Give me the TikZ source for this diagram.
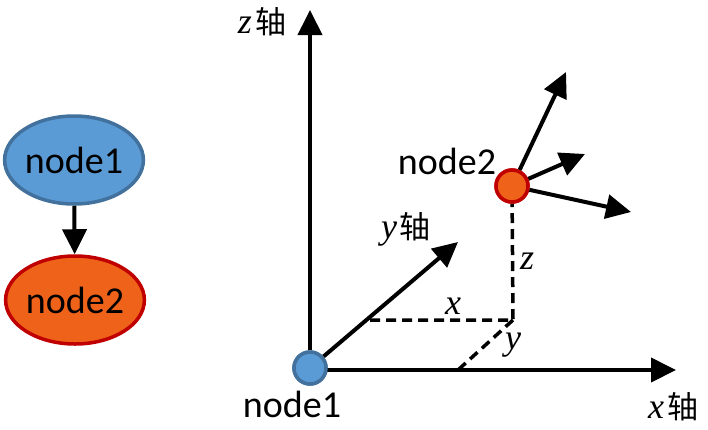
\documentclass[tikz,border=0pt]{standalone}
\usepackage{fontspec}
\setmainfont{Carlito}
\newfontfamily\cjk{Noto Sans CJK SC}
\newfontfamily\mvar{Liberation Serif}
\usetikzlibrary{arrows.meta,shapes.geometric}
\definecolor{nblue}{HTML}{5B9BD5}
\definecolor{nblueb}{HTML}{41719C}
\definecolor{norange}{HTML}{EE6219}
\definecolor{nred}{HTML}{C00000}
\tikzset{
  bignode/.style={ellipse,draw,line width=3.5pt,minimum width=136pt,minimum height=88pt,inner sep=0pt,font=\fontsize{38}{40}\selectfont},
  bluenode/.style={bignode,fill=nblue,draw=nblueb},
  orangenode/.style={bignode,fill=norange,draw=nred},
  dot/.style={circle,draw,line width=3.5pt,minimum size=32pt,inner sep=0pt},
  arr/.style={line width=4pt,-{Triangle[length=25pt,width=24pt]}},
  dsh/.style={line width=3.5pt,dash pattern=on 10pt off 6pt},
  lbl/.style={font=\fontsize{38}{40}\selectfont,inner sep=0pt},
  axl/.style={font=\mvar\itshape\fontsize{36}{38}\selectfont,inner sep=0pt},
}
\newcommand{\zh}[1]{\hspace{3pt}{\cjk\upshape\fontsize{31}{34}\selectfont #1}}
\begin{document}
\begin{tikzpicture}[x=1pt,y=-1pt]
\useasboundingbox (0,0) rectangle (708,429);
% left graph
\node[bluenode] (a) at (74,160) {node1};
\node[orangenode] (b) at (75,300) {node2};
\draw[arr] (a) -- (b);
% coordinate system
\node[dot,fill=nblue,draw=nblueb] (o) at (310,368) {};
\node[dot,fill=norange,draw=nred] (n2) at (512,186) {};
\coordinate (ztip) at (310,10);
\coordinate (xtip) at (676,370);
\coordinate (ytip) at (458,242);
\coordinate (xend) at (310,370);
\coordinate (p) at (513,320);
\coordinate (px) at (370,320);
\coordinate (py) at (458,370);
\coordinate (t1) at (566,72);
\coordinate (t2) at (585,154);
\coordinate (t3) at (631,212);
\draw[dsh] (px) -- (p) -- (n2);
\draw[dsh] (p) -- (py);
\draw[arr] (o) -- (ztip);
\draw[arr] (xend) -- (xtip);
\draw[arr] (o) -- (ytip);
\draw[arr] (n2) -- (t1);
\draw[arr] (n2) -- (t2);
\draw[arr] (n2) -- (t3);
\node[dot,fill=nblue,draw=nblueb] at (o) {};
\node[dot,fill=norange,draw=nred] at (n2) {};
% labels
\node[lbl] (l1) at (292,404) {node1};
\node[lbl] (l2) at (447,161) {node2};
\node[axl] (zl) at (262,22) {z\zh{轴}};
\node[axl] (xl) at (673,407) {x\zh{轴}};
\node[axl] (yl) at (406,229) {y\zh{轴}};
\node[axl] (xs) at (453,306) {x};
\node[axl] (ys) at (513,345) {y};
\node[axl] (zs) at (527,261) {z};
\end{tikzpicture}
\end{document}
